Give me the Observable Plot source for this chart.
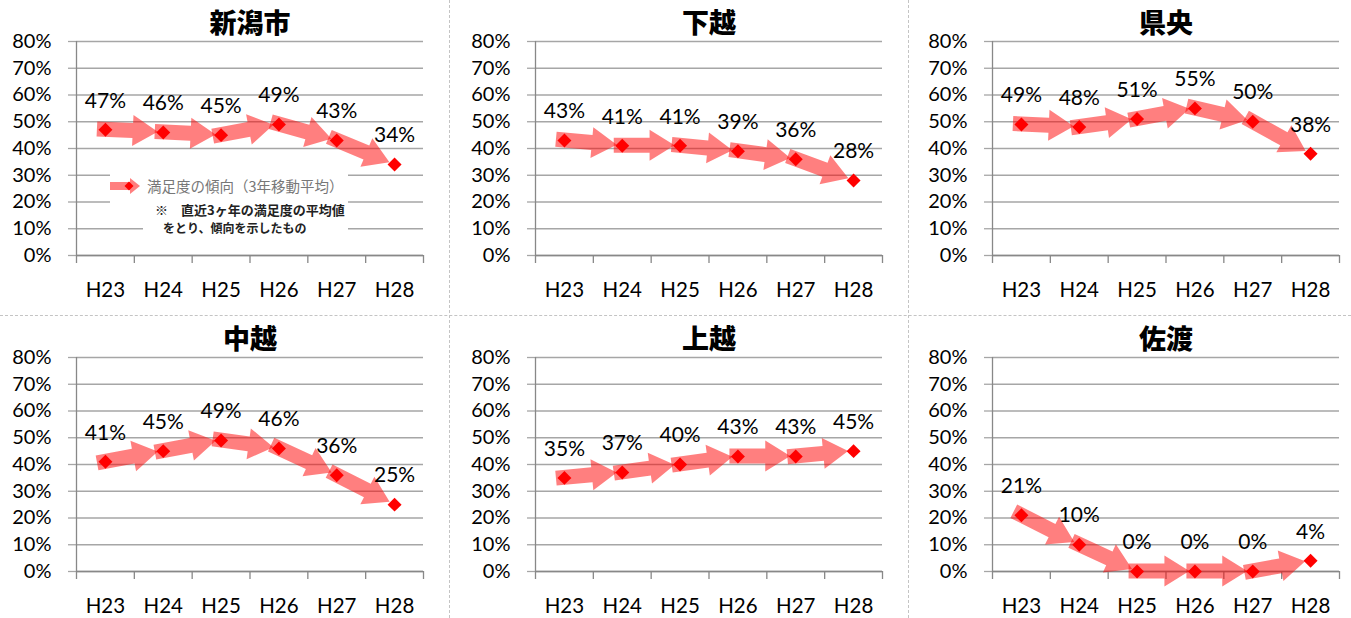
<!DOCTYPE html>
<html><head><meta charset="utf-8">
<script src="https://cdn.jsdelivr.net/npm/d3@7"></script>
<script src="https://cdn.jsdelivr.net/npm/@observablehq/plot@0.6"></script>
<style>
body{margin:0;background:#fff;}
#wrap{position:relative;width:1351px;height:618px;overflow:hidden;font-family:Lato,sans-serif;}
.panel{position:absolute;}
.vsep{position:absolute;top:0;height:618px;border-left:1px dashed #c4c4c4;}
.hsep{position:absolute;left:0;width:1351px;border-top:1px dashed #c4c4c4;}
.lg{position:absolute;font-family:"Noto Sans CJK JP",sans-serif;white-space:nowrap;}
</style></head><body><div id="wrap"></div>
<script>
// ---- data ----
const years = ["H23","H24","H25","H26","H27","H28"];
const regions = ["新潟市","下越","県央","中越","上越","佐渡"];
const niigata = [47,46,45,49,43,34];
const kaetsu  = [43,41,41,39,36,28];
const kenou   = [49,48,51,55,50,38];
const chuetsu = [41,45,49,46,36,25];
const joetsu  = [35,37,40,43,43,45];
const sado    = [21,10,0,0,0,4];
const yTicks  = [0,10,20,30,40,50,60,70,80];
const legendLabel = "満足度の傾向（3年移動平均）";
const noteLines = ["※　直近3ヶ年の満足度の平均値","をとり、傾向を示したもの"];

const series = [niigata, kaetsu, kenou, chuetsu, joetsu, sado];
const colLeft = [0, 459, 916];
const rowTop = [0, 316];

const wrap = document.getElementById("wrap");

function arrowMark(segs) {
  return (index, scales) => {
    const g = d3.create("svg:g");
    for (const s of segs) {
      const ax = scales.x(s.x1), ay = scales.y(s.y1), bx = scales.x(s.x2), by = scales.y(s.y2);
      const L = Math.hypot(bx - ax, by - ay);
      const ux = (bx - ax) / L, uy = (by - ay) / L;
      const nx = -uy, ny = ux;
      const sx = ax - 8 * ux, sy = ay - 8 * uy;
      const tx = bx - 5 * ux, ty = by - 5 * uy;
      const hx = tx - 25 * ux, hy = ty - 25 * uy;
      const w = 7.5, hw = 15.5;
      const pts = [
        [sx + w * nx, sy + w * ny], [hx + w * nx, hy + w * ny], [hx + hw * nx, hy + hw * ny],
        [tx, ty],
        [hx - hw * nx, hy - hw * ny], [hx - w * nx, hy - w * ny], [sx - w * nx, sy - w * ny]
      ];
      g.append("polygon").attr("points", pts.map(p => p.join(",")).join(" "))
        .attr("fill", "#ff0000").attr("fill-opacity", 0.5);
    }
    return g.node();
  };
}

series.forEach((vals, k) => {
  const data = vals.map((v, i) => ({i, year: years[i], v}));
  const segs = data.slice(0, -1).map((d, i) => ({x1: d.i + 0.5, y1: d.v, x2: data[i + 1].i + 0.5, y2: data[i + 1].v}));
  const chart = Plot.plot({
    width: 433, height: 305,
    marginLeft: 76, marginRight: 10, marginTop: 41, marginBottom: 50,
    x: {domain: [0, years.length]},
    y: {domain: [0, 80]},
    style: {fontFamily: "Lato, sans-serif", fontSize: "20px", color: "#000", background: "transparent", overflow: "visible"},
    marks: [
      Plot.gridY(yTicks, {stroke: "#a6a6a6", strokeOpacity: 1, strokeWidth: 1.3}),
      Plot.axisY(yTicks, {tickSize: 8, tickPadding: 17, tickFormat: d => d + "%", stroke: "#a6a6a6", strokeWidth: 1.3, fontSize: 20, label: null}),
      Plot.ruleY([0], {stroke: "#888", strokeWidth: 1.3}),
      Plot.ruleX([0], {stroke: "#888", strokeWidth: 1.3}),
      Plot.axisX(d3.range(years.length + 1), {tickSize: 8, tickFormat: () => "", stroke: "#888", strokeWidth: 1.3, label: null}),
      Plot.axisX(years.map((_, i) => i + 0.5), {tickSize: 0, tickPadding: 27, tickFormat: d => years[Math.floor(d)], fontSize: 20.5, label: null}),
      arrowMark(segs),
      Plot.dot(data, {x: d => d.i + 0.5, y: "v", symbol: "diamond2", r: 6.3, fill: "#ff0000", stroke: "none"}),
      Plot.text(data, {x: d => d.i + 0.5, y: "v", text: d => d.v + "%", dy: -29, fontSize: 21, fill: "#000"}),
      Plot.text([regions[k]], {frameAnchor: "top", lineAnchor: "middle", dy: -17.5, fontSize: 27, fontWeight: 900, fontFamily: "'Noto Sans CJK JP', sans-serif", fill: "#000"})
    ]
  });
  const div = document.createElement("div");
  div.className = "panel";
  div.style.left = colLeft[k % 3] + "px";
  div.style.top = rowTop[Math.floor(k / 3)] + "px";
  div.appendChild(chart);
  wrap.appendChild(div);
});

// separators
[449, 908].forEach(x => { const d = document.createElement("div"); d.className = "vsep"; d.style.left = x + "px"; wrap.appendChild(d); });
{ const d = document.createElement("div"); d.className = "hsep"; d.style.top = "315px"; wrap.appendChild(d); }

// legend (panel 1)
const lg = document.createElement("div");
lg.innerHTML = `
<div style="position:absolute;left:110px;top:171px;width:238px;height:32px;background:#fff"></div>
<div style="position:absolute;left:143px;top:196px;width:205px;height:44px;background:#fff"></div>
<svg style="position:absolute;left:108px;top:176px" width="36" height="20">
  <polygon points="2,6 22,6 22,2 32,10 22,18 22,14 2,14" fill="#ff0000" fill-opacity="0.5"/>
  <polygon points="21,5.5 25.5,10 21,14.5 16.5,10" fill="#ff0000"/>
</svg>
<div class="lg" style="left:147px;top:176px;font-size:14.5px;color:#777;line-height:20px">${legendLabel}</div>
<div class="lg" style="left:155px;top:201px;font-size:13px;color:#222;font-weight:bold;line-height:18px">${noteLines[0]}</div>
<div class="lg" style="left:163px;top:219px;font-size:12px;color:#222;font-weight:bold;line-height:18px">${noteLines[1]}</div>`;
wrap.appendChild(lg);
</script>
</body></html>
